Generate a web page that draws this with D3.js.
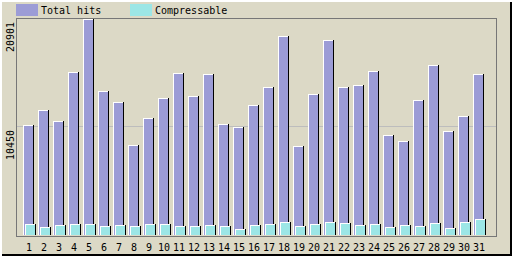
<!DOCTYPE html>
<html>
<head>
<meta charset="utf-8">
<script src="https://cdn.jsdelivr.net/npm/d3@7"></script>
<style>
  body { margin: 0; background: #fff; }
  svg text { font-family: "DejaVu Sans Mono", "Liberation Mono", monospace; font-size: 10px; fill: #000; }
</style>
</head>
<body>
<div id="chart"></div>
<script>
var width = 512, height = 256;

// daily values
var days = d3.range(1, 32);
var totalHits = [10642, 12081, 11026, 15819, 20901, 13902, 12847, 8725, 11313, 13231,
                 15628, 13423, 15532, 10738, 10450, 12560, 14285, 19271, 8629, 13614,
                 18888, 14285, 14477, 15915, 9684, 9108, 13039, 16491, 10067, 11505, 15532];
var compressable = [1055, 767, 959, 1055, 1055, 863, 959, 863, 1055, 1055,
                    863, 863, 959, 863, 575, 959, 1055, 1246, 863, 1055,
                    1246, 1151, 959, 1055, 767, 959, 863, 1151, 671, 1246, 1534];
var yTicks = [10450, 20901];
var series = [
  { name: "Total hits", values: totalHits, color: "#9c9cd6", dx: 0 },
  { name: "Compressable", values: compressable, color: "#9ce6e6", dx: 2 }
];

var bg = "#dcd9c6";

var svg = d3.select("#chart").append("svg")
    .attr("width", width)
    .attr("height", height)
    .attr("shape-rendering", "crispEdges");

// background with a raised border
svg.append("rect").attr("width", width).attr("height", height).attr("fill", bg);
svg.append("rect").attr("x", 0).attr("y", 0).attr("width", width).attr("height", 2).attr("fill", "#fff");
svg.append("rect").attr("x", 0).attr("y", 0).attr("width", 2).attr("height", height).attr("fill", "#fff");
svg.append("rect").attr("x", 2).attr("y", height - 2).attr("width", width - 2).attr("height", 2).attr("fill", "#000");
svg.append("rect").attr("x", width - 2).attr("y", 2).attr("width", 2).attr("height", height - 2).attr("fill", "#000");

var x = d3.scaleLinear().domain([1, 31]).range([28, 478]);
var y = d3.scaleLinear().domain([0, 20901]).range([235, 19]);

// plot frame
svg.append("rect")
    .attr("x", 16.5).attr("y", 18.5)
    .attr("width", 480).attr("height", 218)
    .attr("fill", "none")
    .attr("stroke", "#777")
    .attr("stroke-width", 1);

// gridline
svg.append("line")
    .attr("x1", 17).attr("x2", 496)
    .attr("y1", Math.round(y(10450)) - 0.5).attr("y2", Math.round(y(10450)) - 0.5)
    .attr("stroke", "#bdbdbd");

// y labels, rotated
svg.selectAll(".ylab")
    .data(yTicks)
    .enter().append("text")
    .attr("class", "ylab")
    .attr("transform", function (d) { return "translate(14," + (Math.round(y(d)) + 3) + ") rotate(-90)"; })
    .attr("text-anchor", "end")
    .text(function (d) { return d; });

// bars: fill, white top/left edge, black right edge
series.forEach(function (s) {
    var g = svg.append("g");
    var bars = g.selectAll("g")
        .data(days)
        .enter().append("g");
    bars.append("rect")
        .attr("x", function (d) { return x(d) - 5 + s.dx; })
        .attr("y", function (d, i) { return Math.round(y(s.values[i])); })
        .attr("width", 11)
        .attr("height", function (d, i) { return 235 - Math.round(y(s.values[i])); })
        .attr("fill", s.color);
    bars.append("rect")
        .attr("x", function (d) { return x(d) - 5 + s.dx; })
        .attr("y", function (d, i) { return Math.round(y(s.values[i])); })
        .attr("width", 10)
        .attr("height", 1)
        .attr("fill", "#fff");
    bars.append("rect")
        .attr("x", function (d) { return x(d) - 5 + s.dx; })
        .attr("y", function (d, i) { return Math.round(y(s.values[i])); })
        .attr("width", 1)
        .attr("height", function (d, i) { return 235 - Math.round(y(s.values[i])); })
        .attr("fill", "#fff");
    bars.append("rect")
        .attr("x", function (d) { return x(d) + 5 + s.dx; })
        .attr("y", function (d, i) { return Math.round(y(s.values[i])); })
        .attr("width", 1)
        .attr("height", function (d, i) { return 235 - Math.round(y(s.values[i])); })
        .attr("fill", "#000");
});

// day labels
svg.selectAll(".xlab")
    .data(days)
    .enter().append("text")
    .attr("class", "xlab")
    .attr("x", function (d) { return x(d) + 1; })
    .attr("y", 251)
    .attr("text-anchor", "middle")
    .text(function (d) { return d; });

// legend
var legendX = [16, 130];
series.forEach(function (s, i) {
    svg.append("rect")
        .attr("x", legendX[i]).attr("y", 4)
        .attr("width", 22).attr("height", 12)
        .attr("fill", s.color);
    svg.append("text")
        .attr("x", legendX[i] + 25).attr("y", 14)
        .text(s.name);
});
</script>
</body>
</html>
